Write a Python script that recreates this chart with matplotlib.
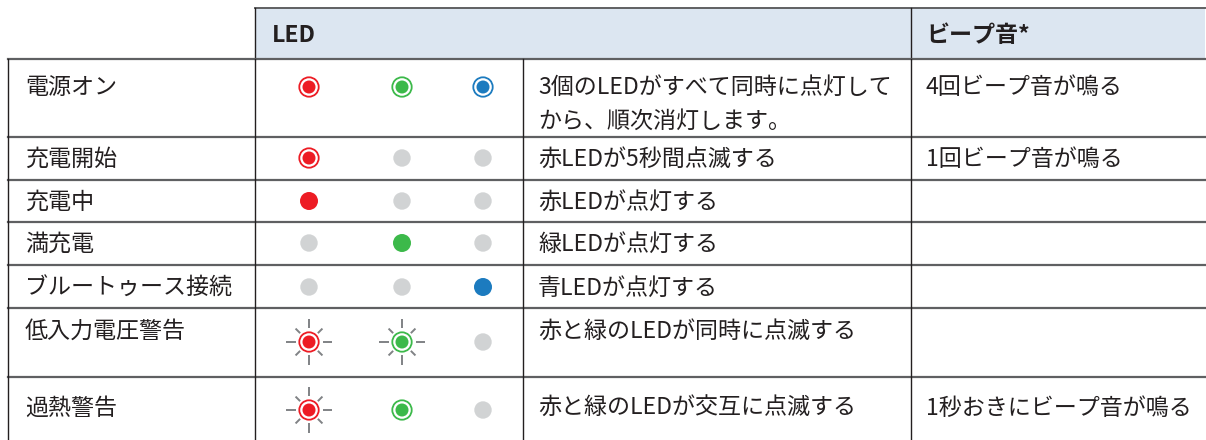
import matplotlib
matplotlib.use("Agg")
import matplotlib.pyplot as plt
from matplotlib.patches import Circle, Rectangle

plt.rcParams['font.family'] = ['Noto Sans CJK JP', 'DejaVu Sans']

# ---- data ----
header_led = "LED"
header_beep = "ビープ音*"
states = ["電源オン", "充電開始", "充電中", "満充電", "ブルートゥース接続", "低入力電圧警告", "過熱警告"]
# LED codes for red / green / blue: ring = lit (ringed), solid = on, off = grey, flash = blinking (rays)
led_red = ["ring", "ring", "solid", "off", "off", "flash", "flash"]
led_green = ["ring", "off", "off", "solid", "off", "flash", "ring"]
led_blue = ["ring", "off", "off", "off", "solid", "off", "off"]
descriptions = [
    ["3個のLEDがすべて同時に点灯して", "から、順次消灯します。"],
    ["赤LEDが5秒間点滅する"],
    ["赤LEDが点灯する"],
    ["緑LEDが点灯する"],
    ["青LEDが点灯する"],
    ["赤と緑のLEDが同時に点滅する"],
    ["赤と緑のLEDが交互に点滅する"],
]
beeps = ["4回ビープ音が鳴る", "1回ビープ音が鳴る", "", "", "", "", "1秒おきにビープ音が鳴る"]

# ---- layout / style ----
W, H = 1206, 440
TXT = "#231f20"
HDR_BG = "#dce6f1"
HLINE = "#5f6062"
VLINE = "#231f20"
OFF_C = "#d1d3d4"
RAY_C = "#808285"
led_colors = ["#ed1c24", "#3cb94a", "#1c7bbf"]
led_x = [309, 402, 483]
x_left, x_led, x_desc, x_beep, x_right = 8, 255, 523, 911, 1205
hdr_top, hdr_bot = 8, 59
row_edges = [59, 137, 180, 222, 265, 308, 377, 446]
text_y = [87, 159, 202, 244, 288, 331, 408]
icon_y = [87, 158, 201, 243, 287, 342, 410]
line_gap = 34
FS = 16.6

fig = plt.figure(figsize=(W / 100, H / 100), dpi=100)
ax = fig.add_axes([0, 0, 1, 1])
ax.set_xlim(0, W)
ax.set_ylim(H, 0)
ax.set_aspect('equal')
ax.axis('off')

# header
ax.add_patch(Rectangle((x_led, hdr_top), x_right - x_led, hdr_bot - hdr_top,
                       facecolor=HDR_BG, edgecolor='none', zorder=0))
ax.plot([x_led, x_right], [hdr_top, hdr_top], color=HLINE, lw=1.4, zorder=2)
ax.plot([x_led, x_led], [hdr_top, hdr_bot], color=VLINE, lw=1.0, zorder=2)
ax.plot([x_beep, x_beep], [hdr_top, hdr_bot], color=VLINE, lw=1.0, zorder=2)
ax.text(272, 35, header_led, fontsize=FS, fontweight='bold', color=TXT, va='center', ha='left')
ax.text(926, 35, header_beep, fontsize=FS, fontweight='bold', color=TXT, va='center', ha='left')

# grid lines
for y in row_edges[:-1]:
    ax.plot([x_left, x_right], [y, y], color=HLINE, lw=1.6, zorder=2)
for x in [x_left, x_led, x_desc, x_beep]:
    ax.plot([x, x], [row_edges[0], H], color=VLINE, lw=1.0, zorder=2)


def draw_led(x, y, code, color):
    if code == "off":
        ax.add_patch(Circle((x, y), 8.7, facecolor=OFF_C, edgecolor='none', zorder=3))
    elif code == "solid":
        ax.add_patch(Circle((x, y), 9.0, facecolor=color, edgecolor='none', zorder=3))
    else:
        ax.add_patch(Circle((x, y), 9.7, facecolor='white', edgecolor=color, lw=1.3, zorder=3))
        ax.add_patch(Circle((x, y), 6.5, facecolor=color, edgecolor='none', zorder=4))
        if code == "flash":
            for dx, dy in [(1, 0), (-1, 0), (0, 1), (0, -1)]:
                ax.plot([x + dx * 13.5, x + dx * 23], [y + dy * 13.5, y + dy * 23],
                        color=RAY_C, lw=1.4, solid_capstyle='butt', zorder=3)
            d = 0.7071
            for dx, dy in [(d, d), (-d, d), (d, -d), (-d, -d)]:
                ax.plot([x + dx * 12.5, x + dx * 19], [y + dy * 12.5, y + dy * 19],
                        color=RAY_C, lw=1.4, solid_capstyle='butt', zorder=3)


for i, name in enumerate(states):
    ax.text(25, text_y[i], name, fontsize=FS, color=TXT, va='center', ha='left')
    for j, codes in enumerate([led_red, led_green, led_blue]):
        draw_led(led_x[j], icon_y[i], codes[i], led_colors[j])
    for k, line in enumerate(descriptions[i]):
        ax.text(538, text_y[i] + k * line_gap, line, fontsize=FS, color=TXT, va='center', ha='left')
    if beeps[i]:
        ax.text(926, text_y[i], beeps[i], fontsize=FS, color=TXT, va='center', ha='left')

fig.savefig("out.png", dpi=100)
